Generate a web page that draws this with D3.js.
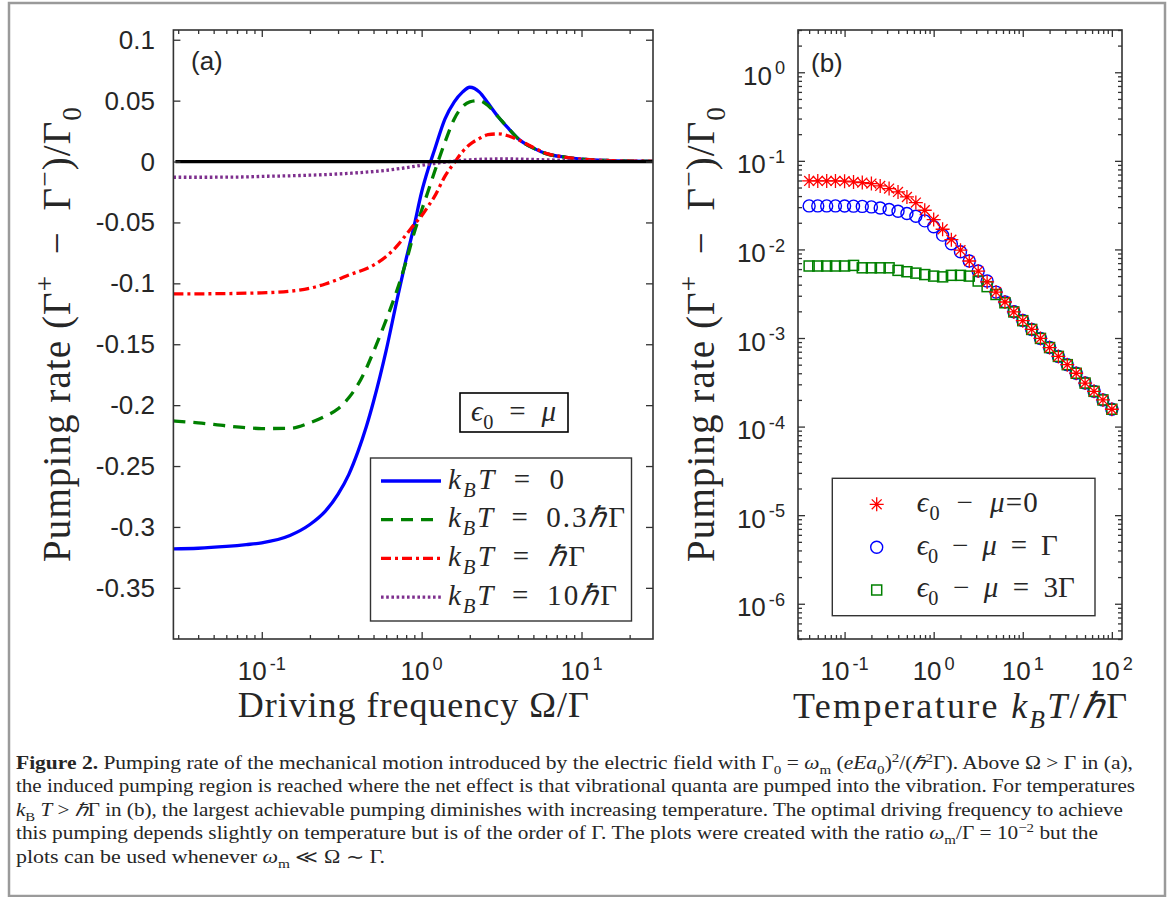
<!DOCTYPE html>
<html>
<head>
<meta charset="utf-8">
<script src="https://cdn.jsdelivr.net/npm/d3@7"></script>
<style>
  body { margin: 0; background: #fff; }
  svg text { fill: #262626; }
</style>
</head>
<body>
<script>
// ---- panel (a): pumping rate vs driving frequency ----
const omega = [0.028, 0.04, 0.06, 0.08, 0.1, 0.15, 0.2, 0.25, 0.3, 0.35, 0.4, 0.45, 0.5, 0.6, 0.7, 0.8, 0.9,
  1.0, 1.1, 1.2, 1.4, 1.6, 1.8, 2.0, 2.3, 2.6, 3, 3.5, 4, 5, 6, 8, 10, 15, 20, 28];
const rateT0 = [-0.318, -0.3175, -0.316, -0.3145, -0.313, -0.307, -0.298, -0.287, -0.273, -0.257, -0.238, -0.218,
  -0.197, -0.155, -0.114, -0.080, -0.052, -0.025, -0.006, 0.009, 0.035, 0.049, 0.057, 0.061, 0.057, 0.048,
  0.037, 0.027, 0.019, 0.011, 0.0065, 0.0035, 0.002, 0.0008, 0.0004, 0.0002];
const rateT03 = [-0.2130, -0.2145, -0.2170, -0.2185, -0.2192, -0.2190, -0.2145, -0.2090, -0.2030, -0.1940,
  -0.1830, -0.1700, -0.1560, -0.1300, -0.1060, -0.0820, -0.0580, -0.0400, -0.0240, -0.0090, 0.0160, 0.0350,
  0.0450, 0.0490, 0.0500, 0.0460, 0.0370, 0.0270, 0.0190, 0.0110, 0.0065, 0.0035, 0.0020, 0.0008, 0.0004, 0.0002];
const rateT1 = [-0.1087, -0.1086, -0.1084, -0.1081, -0.1078, -0.1065, -0.1040, -0.1005, -0.0968, -0.0932,
  -0.0905, -0.0880, -0.0850, -0.0780, -0.0695, -0.0600, -0.0515, -0.0445, -0.0365, -0.0290, -0.0120, -0.0010,
  0.0080, 0.0140, 0.0190, 0.0220, 0.0227, 0.0210, 0.0180, 0.0115, 0.0068, 0.0035, 0.0020, 0.0008, 0.0004, 0.0002];
const rateT10 = [-0.0129, -0.0129, -0.0128, -0.0126, -0.0122, -0.0117, -0.0112, -0.0107, -0.0102, -0.0097,
  -0.0092, -0.0087, -0.0082, -0.0072, -0.0061, -0.0050, -0.0040, -0.0031, -0.0023, -0.0016, -0.0005, 0.0004,
  0.0010, 0.0014, 0.0018, 0.0020, 0.0021, 0.0021, 0.0020, 0.0017, 0.0014, 0.0010, 0.0007, 0.0004, 0.0002, 0.0001];
const yTicksA = [0.1, 0.05, 0, -0.05, -0.1, -0.15, -0.2, -0.25, -0.3, -0.35];
const yTickLabelsA = ["0.1", "0.05", "0", "-0.05", "-0.1", "-0.15", "-0.2", "-0.25", "-0.3", "-0.35"];
const xTicksA = [0.1, 1, 10];
const xTickExpA = ["-1", "0", "1"];

// ---- panel (b): pumping rate vs temperature ----
const temps = [0.04, 0.05, 0.063, 0.079, 0.1, 0.126, 0.158, 0.2, 0.251, 0.316, 0.398, 0.501, 0.631, 0.794,
  1, 1.26, 1.58, 2, 2.51, 3.16, 3.98, 5.01, 6.31, 7.94, 10, 12.6, 15.8, 20, 25.1, 31.6, 39.8, 50.1, 63.1, 79.4, 100];
const rateMu0 = [0.0593, 0.0593, 0.0593, 0.0593, 0.0589, 0.0578, 0.0569, 0.0554, 0.0521, 0.0486, 0.0446, 0.0391,
  0.0338, 0.0277, 0.0217, 0.0169, 0.0129, 0.0098, 0.0074, 0.0057, 0.0043, 0.0033, 0.00255, 0.00197, 0.00157,
  0.00125, 0.00099, 0.00078, 0.00062, 0.00050, 0.00040, 0.00031, 0.00025, 0.00020, 0.000157];
const rateMu1 = [0.0310, 0.0310, 0.0310, 0.0310, 0.0309, 0.0308, 0.0306, 0.0302, 0.0294, 0.0282, 0.0270, 0.0254,
  0.0237, 0.0210, 0.0180, 0.0145, 0.0116, 0.0094, 0.0074, 0.0057, 0.0044, 0.0033, 0.00256, 0.00198, 0.00158,
  0.00125, 0.00099, 0.00078, 0.00062, 0.00050, 0.00040, 0.00031, 0.00025, 0.00020, 0.000157];
const rateMu3 = [0.0065, 0.0065, 0.0065, 0.0065, 0.0065, 0.0066, 0.0062, 0.0062, 0.0062, 0.0062, 0.0058, 0.0056,
  0.0054, 0.0052, 0.0050, 0.0049, 0.0051, 0.0051, 0.0050, 0.0044, 0.0038, 0.0031, 0.0025, 0.00197, 0.00157,
  0.00125, 0.00099, 0.00078, 0.00062, 0.00050, 0.00040, 0.00031, 0.00025, 0.00020, 0.000157];
const xTicksB = [0.1, 1, 10, 100];
const xTickExpB = ["-1", "0", "1", "2"];
const yTicksB = [1, 1e-1, 1e-2, 1e-3, 1e-4, 1e-5, 1e-6];
const yTickExpB = ["0", "-1", "-2", "-3", "-4", "-5", "-6"];

const W = 1171, H = 897;
const axisColor = "#333";
const SANS = "'Liberation Sans', Arial, Helvetica, sans-serif";
const SERIF = "'Liberation Serif', 'Times New Roman', Times, serif";
const SP = "\u2002"; // en space, for math-like spacing

const svg = d3.select("body").append("svg")
  .attr("width", W)
  .attr("height", H);

svg.append("rect").attr("width", W).attr("height", H).attr("fill", "#fff");
// outer figure frame
svg.append("rect")
  .attr("x", 9).attr("y", 3).attr("width", 1156).attr("height", 893)
  .attr("fill", "none").attr("stroke", "#9a9a9a").attr("stroke-width", 2.5);

// text with italic / sub / sup pieces
function mathText(g, x, y, parts, size, family) {
  const t = g.append("text").attr("x", x).attr("y", y)
    .attr("font-size", size)
    .style("font-family", family || SANS);
  let cur = 0;
  parts.forEach(p => {
    const off = p.sub ? 0.28 * size : p.sup ? -0.4 * size : 0;
    const s = t.append("tspan").text(p.t).attr("dy", off - cur);
    if (p.sub || p.sup) s.attr("font-size", size * 0.7);
    if (p.i) s.attr("font-style", "italic");
    if (p.b) s.attr("font-weight", "bold");
    if (p.dx) s.attr("dx", p.dx);
    cur = off;
  });
  return t;
}

// minor ticks for a log domain
function minorTicks(domain) {
  const out = [];
  for (let e = Math.floor(Math.log10(domain[0])); e <= Math.ceil(Math.log10(domain[1])); e++) {
    for (let m = 2; m <= 9; m++) {
      const v = m * Math.pow(10, e);
      if (v >= domain[0] && v <= domain[1]) out.push(v);
    }
  }
  return out;
}

function tickSet(g, axisFn, scale, tf, values, size) {
  const gg = g.append("g").attr("transform", tf)
    .call(axisFn(scale).tickValues(values).tickSize(-size).tickSizeOuter(0).tickFormat(""));
  gg.select(".domain").remove();
  gg.selectAll("line").attr("stroke", axisColor).attr("stroke-width", 1.3);
}

function box(g, b) {
  g.append("rect")
    .attr("x", b.left).attr("y", b.top)
    .attr("width", b.right - b.left).attr("height", b.bottom - b.top)
    .attr("fill", "none").attr("stroke", axisColor).attr("stroke-width", 1.6);
}

const yLabelParts = [{t: "Pumping rate ("}, {t: "Γ"}, {t: "+", sup: 1}, {t: SP + "−" + SP + "Γ"}, {t: "−", sup: 1},
  {t: ")/Γ"}, {t: "0", sub: 1}];

// ================= panel (a) =================
const a = {left: 173.4, top: 30, right: 653, bottom: 639};
const xA = d3.scaleLog().domain([0.028, 28]).range([a.left, a.right]);
const yA = d3.scaleLinear().domain([-0.392, 0.108]).range([a.bottom, a.top]);
const gA = svg.append("g");

const lineA = vals => d3.line()
  .x((d, i) => xA(omega[i]))
  .y(d => yA(d))
  .curve(d3.curveMonotoneX)(vals);

const seriesA = [
  {vals: rateT0, color: "#0000ff", dash: null},
  {vals: rateT03, color: "#008000", dash: "12,8"},
  {vals: rateT1, color: "#ff0000", dash: "10,4,3,4"},
  {vals: rateT10, color: "#7e2f8e", dash: "2.6,2.6"}
];
seriesA.forEach(s => {
  gA.append("path")
    .attr("d", lineA(s.vals))
    .attr("fill", "none")
    .attr("stroke", s.color)
    .attr("stroke-width", 3.3)
    .attr("stroke-dasharray", s.dash);
});
// zero reference line
gA.append("line")
  .attr("x1", xA(0.028) + 2).attr("x2", xA(28))
  .attr("y1", yA(0)).attr("y2", yA(0))
  .attr("stroke", "#000").attr("stroke-width", 3.3);

tickSet(gA, d3.axisBottom, xA, `translate(0,${a.bottom})`, xTicksA, 7);
tickSet(gA, d3.axisTop, xA, `translate(0,${a.top})`, xTicksA, 7);
tickSet(gA, d3.axisBottom, xA, `translate(0,${a.bottom})`, minorTicks([0.028, 28]), 4);
tickSet(gA, d3.axisTop, xA, `translate(0,${a.top})`, minorTicks([0.028, 28]), 4);
tickSet(gA, d3.axisLeft, yA, `translate(${a.left},0)`, yTicksA, 7);
tickSet(gA, d3.axisRight, yA, `translate(${a.right},0)`, yTicksA, 7);
box(gA, a);

yTicksA.forEach((v, i) => {
  mathText(gA, 155, yA(v) + 9, [{t: yTickLabelsA[i]}], 26).attr("text-anchor", "end");
});
xTicksA.forEach((v, i) => {
  mathText(gA, xA(v), 680, [{t: "10"}, {t: xTickExpA[i], sup: 1, dx: 3}], 26)
    .attr("text-anchor", "middle");
});

mathText(gA, 191, 70, [{t: "(a)"}], 26);

mathText(gA, (a.left + a.right) / 2, 717, [{t: "Driving frequency Ω/Γ"}], 36, SERIF)
  .attr("text-anchor", "middle").attr("textLength", 351).attr("lengthAdjust", "spacing");
mathText(gA, 0, 0, yLabelParts, 39, SERIF)
  .attr("text-anchor", "middle")
  .attr("transform", `translate(70,${(a.top + a.bottom) / 2}) rotate(-90)`)
  .attr("textLength", 455).attr("lengthAdjust", "spacing");

// annotation box
gA.append("rect").attr("x", 460).attr("y", 393).attr("width", 108).attr("height", 39)
  .attr("fill", "#fff").attr("stroke", "#000").attr("stroke-width", 1.6);
mathText(gA, 471, 421, [{t: "ϵ", i: 1}, {t: "0", sub: 1}, {t: SP + "=" + SP}, {t: "μ", i: 1}], 29, SERIF)
  .attr("textLength", 85).attr("lengthAdjust", "spacing");

// legend (a)
const legA = gA.append("g");
legA.append("rect").attr("x", 370.5).attr("y", 458).attr("width", 261).attr("height", 163)
  .attr("fill", "#fff").attr("stroke", axisColor).attr("stroke-width", 1.4);
const EQ = SP + "=" + SP;
const legAText = [
  {parts: [{t: EQ + "0"}], w: 116},
  {parts: [{t: EQ + "0.3"}, {t: "ℏ", i: 1}, {t: "Γ"}], w: 177},
  {parts: [{t: EQ}, {t: "ℏ", i: 1}, {t: "Γ"}], w: 137},
  {parts: [{t: EQ + "10"}, {t: "ℏ", i: 1}, {t: "Γ"}], w: 169}
];
seriesA.forEach((s, i) => {
  const yy = 481 + i * 38.7;
  legA.append("line").attr("x1", 381).attr("x2", 441).attr("y1", yy).attr("y2", yy)
    .attr("stroke", s.color).attr("stroke-width", 3.3).attr("stroke-dasharray", s.dash);
  const parts = [{t: "k", i: 1}, {t: "B", i: 1, sub: 1}, {t: "T", i: 1}].concat(legAText[i].parts);
  mathText(legA, 448, yy + 7.5, parts, 29, SERIF)
    .attr("textLength", legAText[i].w).attr("lengthAdjust", "spacing");
});

// ================= panel (b) =================
const b = {left: 798, top: 30, right: 1122, bottom: 639};
const xB = d3.scaleLog().domain([0.03, 130]).range([b.left, b.right]);
const yB = d3.scaleLog().domain([4e-7, 3]).range([b.bottom, b.top]);
const gB = svg.append("g");

tickSet(gB, d3.axisBottom, xB, `translate(0,${b.bottom})`, xTicksB, 7);
tickSet(gB, d3.axisTop, xB, `translate(0,${b.top})`, xTicksB, 7);
tickSet(gB, d3.axisBottom, xB, `translate(0,${b.bottom})`, minorTicks([0.03, 130]), 4);
tickSet(gB, d3.axisTop, xB, `translate(0,${b.top})`, minorTicks([0.03, 130]), 4);
tickSet(gB, d3.axisLeft, yB, `translate(${b.left},0)`, yTicksB, 7);
tickSet(gB, d3.axisRight, yB, `translate(${b.right},0)`, yTicksB, 7);
tickSet(gB, d3.axisLeft, yB, `translate(${b.left},0)`, minorTicks([4e-7, 3]), 4);
tickSet(gB, d3.axisRight, yB, `translate(${b.right},0)`, minorTicks([4e-7, 3]), 4);
box(gB, b);

const starPath = r => {
  const d = r * 0.707;
  return `M${-r},0H${r}M0,${-r}V${r}M${-d},${-d}L${d},${d}M${-d},${d}L${d},${-d}`;
};
function marker(g, kind, x, y) {
  if (kind === "star") {
    g.append("path").attr("d", starPath(7)).attr("transform", `translate(${x},${y})`)
      .attr("fill", "none").attr("stroke", "#ff0000").attr("stroke-width", 1.3);
  } else if (kind === "circle") {
    g.append("circle").attr("cx", x).attr("cy", y).attr("r", 6)
      .attr("fill", "none").attr("stroke", "#0000ff").attr("stroke-width", 1.4);
  } else {
    g.append("rect").attr("x", x - 5).attr("y", y - 5).attr("width", 10).attr("height", 10)
      .attr("fill", "none").attr("stroke", "#008000").attr("stroke-width", 1.5);
  }
}
const seriesB = [
  {vals: rateMu1, kind: "circle"},
  {vals: rateMu3, kind: "square"},
  {vals: rateMu0, kind: "star"}
];
seriesB.forEach(s => {
  s.vals.forEach((v, i) => marker(gB, s.kind, xB(temps[i]), yB(v)));
});

yTicksB.forEach((v, i) => {
  mathText(gB, 785, yB(v) + 12.5, [{t: "10"}, {t: yTickExpB[i], sup: 1, dx: 3}], 26)
    .attr("text-anchor", "end");
});
xTicksB.forEach((v, i) => {
  mathText(gB, xB(v), 680, [{t: "10"}, {t: xTickExpB[i], sup: 1, dx: 3}], 26)
    .attr("text-anchor", "middle");
});

mathText(gB, 811, 72, [{t: "(b)"}], 26);

mathText(gB, (b.left + b.right) / 2, 718,
  [{t: "Temperature "}, {t: "k", i: 1}, {t: "B", i: 1, sub: 1}, {t: "T", i: 1}, {t: "/"}, {t: "ℏ", i: 1}, {t: "Γ"}],
  36, SERIF)
  .attr("text-anchor", "middle").attr("textLength", 334).attr("lengthAdjust", "spacing");
mathText(gB, 0, 0, yLabelParts, 39, SERIF)
  .attr("text-anchor", "middle")
  .attr("transform", `translate(714,${(b.top + b.bottom) / 2}) rotate(-90)`)
  .attr("textLength", 455).attr("lengthAdjust", "spacing");

// legend (b)
const legB = gB.append("g");
legB.append("rect").attr("x", 832.3).attr("y", 478.3).attr("width", 262.7).attr("height", 137.4)
  .attr("fill", "#fff").attr("stroke", axisColor).attr("stroke-width", 1.4);
const legBItems = [
  {kind: "star", y: 504.3, base: 511.7, w: 121, parts: [{t: "=0"}]},
  {kind: "circle", y: 547.3, base: 555, w: 141, parts: [{t: EQ + "Γ"}]},
  {kind: "square", y: 590, base: 596.7, w: 158, parts: [{t: EQ + "3Γ"}]}
];
legBItems.forEach(it => {
  marker(legB, it.kind, 876.7, it.y);
  const parts = [{t: "ϵ", i: 1}, {t: "0", sub: 1}, {t: SP + "−" + SP}, {t: "μ", i: 1}].concat(it.parts);
  mathText(legB, 916.7, it.base, parts, 29, SERIF)
    .attr("textLength", it.w).attr("lengthAdjust", "spacing");
});

// ================= caption =================
const captionLines = [
  {w: 1117, parts: [{t: "Figure 2.", b: 1}, {t: " Pumping rate of the mechanical motion introduced by the electric field with Γ"},
    {t: "0", sub: 1}, {t: " = "}, {t: "ω", i: 1}, {t: "m", sub: 1}, {t: " ("}, {t: "eEa", i: 1}, {t: "0", sub: 1},
    {t: ")"}, {t: "2", sup: 1}, {t: "/("}, {t: "ℏ", i: 1}, {t: "2", sup: 1}, {t: "Γ). Above Ω > Γ in (a),"}]},
  {w: 1119, parts: [{t: "the induced pumping region is reached where the net effect is that vibrational quanta are pumped into the vibration. For temperatures"}]},
  {w: 1107, parts: [{t: "k", i: 1}, {t: "B", sub: 1}, {t: " "}, {t: "T", i: 1}, {t: " > "}, {t: "ℏ", i: 1},
    {t: "Γ in (b), the largest achievable pumping diminishes with increasing temperature. The optimal driving frequency to achieve"}]},
  {w: 1082, parts: [{t: "this pumping depends slightly on temperature but is of the order of Γ. The plots were created with the ratio "},
    {t: "ω", i: 1}, {t: "m", sub: 1}, {t: "/Γ = 10"}, {t: "−2", sup: 1}, {t: " but the"}]},
  {w: 369, parts: [{t: "plots can be used whenever "}, {t: "ω", i: 1}, {t: "m", sub: 1}, {t: " ≪ Ω ∼ Γ."}]}
];
captionLines.forEach((ln, i) => {
  mathText(svg, 16, 769 + i * 23.4, ln.parts, 18, SERIF)
    .attr("textLength", ln.w).attr("lengthAdjust", "spacingAndGlyphs");
});
</script>
</body>
</html>
